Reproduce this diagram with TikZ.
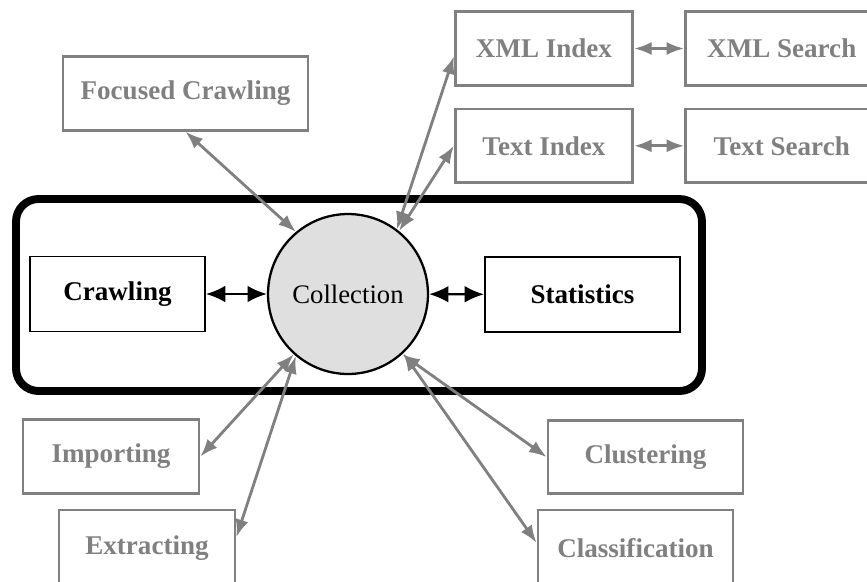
\documentclass[tikz,border=0pt]{standalone}
\usepackage{fontspec}
\setmainfont{Liberation Serif}
\usetikzlibrary{positioning}
\usetikzlibrary{arrows.meta}

\begin{document}
\begin{tikzpicture}[x=0.02cm, y=-0.02cm, node distance={10mm}, font=\fontsize{15.2}{18}\selectfont,
            main/.style = {draw, line width=1.1pt, minimum width=#1, minimum height=1.5cm, font=\fontsize{15.4}{18}\selectfont\bfseries},
            main/.default = 3.5cm,
            side/.style = {draw=gray, text=gray, line width=1.6pt, minimum width=#1, minimum height=1.47cm, font=\fontsize{15.4}{18}\selectfont\bfseries},
            side/.default = 3.55cm,
            hub/.style = {draw, circle, fill=gray!25, line width=1.3pt, minimum size=3.2cm},
            blk/.style = {line width=1.3pt, {Latex[length=11pt,width=9.5pt]}-{Latex[length=11pt,width=9.5pt]}},
            gry/.style = {gray, line width=1.6pt, {Latex[length=10pt,width=7.5pt]}-{Latex[length=10pt,width=7.5pt]}}]
            \useasboundingbox (0,0) rectangle (867,582);
            \draw[line width=4.5pt, rounded corners=0.45cm] (16,199) rectangle (702,391);
            \node[hub] (coll) at (348,294) {Collection};
            \node[main] (crawl) at (117.5,294) {Crawling};
            \node[main=3.9cm] (stats) at (582.5,294.5) {Statistics};
            \node[side=4.9cm] (focus) at (185.5,93.5) {Focused Crawling};
            \node[side] (xmlidx) at (544,48.5) {XML Index};
            \node[side=3.85cm] (xmlsrch) [right=1cm of xmlidx] {XML Search};
            \node[side] (txtidx) [below=0.42cm of xmlidx] {Text Index};
            \node[side=3.85cm] (txtsrch) [right=1cm of txtidx] {Text Search};
            \node[side=3.52cm] (imp) at (111,456.5) {Importing};
            \node[side=3.52cm, minimum height=1.52cm] (extr) at (147,548) {Extracting};
            \node[side=3.9cm] (clus) at (645.5,457) {Clustering};
            \node[side=3.9cm, minimum height=1.52cm] (classif) at (635.5,548) {Classification};
            \draw[blk] (crawl) -- (coll);
            \draw[blk] (coll) -- (stats);
            \draw[gry] (xmlidx) -- (xmlsrch);
            \draw[gry] (txtidx) -- (txtsrch);
            \draw[gry] (focus.south) -- (coll.130);
            \draw[gry] (coll.53) -- (xmlidx.185);
            \draw[gry] (coll.51) -- (txtidx.west);
            \draw[gry] (coll.228) -- (imp.east);
            \draw[gry] (coll.230) -- (extr.7);
            \draw[gry] (coll.-48) -- (clus.west);
            \draw[gry] (coll.-47) -- (classif.177);
        \end{tikzpicture}
\end{document}
